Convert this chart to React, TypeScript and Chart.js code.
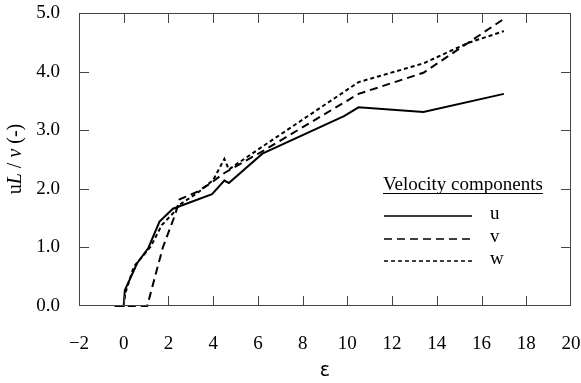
import React, { useEffect, useRef } from "react";
import { Chart, registerables } from "chart.js";

Chart.register(...registerables);

const uEps = [-0.4, 0, 0.05, 0.6, 1.1, 1.6, 2.2, 3.95, 4.5, 4.7, 6.2, 9.85, 10.5, 13.4, 17];
const uVals = [0, 0, 0.27, 0.73, 0.99, 1.44, 1.66, 1.91, 2.14, 2.1, 2.6, 3.24, 3.39, 3.31, 3.62];

const vEps = [-0.4, 1.05, 1.75, 2.3, 2.5, 3.3, 3.9, 4.5, 6.2, 10.5, 13.4, 17];
const vVals = [0, 0, 1.0, 1.56, 1.82, 1.95, 2.1, 2.27, 2.64, 3.62, 3.98, 4.9];

const wEps = [0, 0.07, 0.45, 1.2, 1.7, 2.2, 2.5, 3.3, 4.0, 4.5, 4.7, 6.2, 10.5, 13.4, 15.4, 17];
const wVals = [0, 0.22, 0.67, 1.01, 1.38, 1.58, 1.73, 1.93, 2.15, 2.51, 2.33, 2.72, 3.82, 4.14, 4.49, 4.69];

const seriesNames = ["u", "v", "w"];
const legendTitle = "Velocity components";
const xTitle = "ε";

const dashes = [[], [8, 5], [4, 3]];

const toXY = (xs: number[], ys: number[]) => xs.map((x, i) => ({ x, y: ys[i] }));

const SERIF = "'Liberation Serif'";

const framePlugin = {
  id: "frameTicks",
  afterDraw(chart: any) {
    const { ctx, chartArea: a, scales } = chart;
    const xs = scales.x;
    const ys = scales.y;
    ctx.save();
    ctx.strokeStyle = "#444";
    ctx.lineWidth = 1;
    ctx.setLineDash([]);
    ctx.strokeRect(a.left + 0.5, a.top + 0.5, a.right - a.left - 1, a.bottom - a.top - 1);
    const L = 10;
    ctx.beginPath();
    xs.ticks.forEach((t: any) => {
      const px = Math.round(xs.getPixelForValue(t.value)) + 0.5;
      if (px <= a.left + 1 || px >= a.right - 1) return;
      ctx.moveTo(px, a.bottom);
      ctx.lineTo(px, a.bottom - L);
      ctx.moveTo(px, a.top);
      ctx.lineTo(px, a.top + L);
    });
    ys.ticks.forEach((t: any) => {
      const py = Math.round(ys.getPixelForValue(t.value)) + 0.5;
      if (py <= a.top + 1 || py >= a.bottom - 1) return;
      ctx.moveTo(a.left, py);
      ctx.lineTo(a.left + L, py);
      ctx.moveTo(a.right, py);
      ctx.lineTo(a.right - L, py);
    });
    ctx.stroke();

    // y axis title with italic L
    ctx.fillStyle = "#000";
    ctx.translate(16, 159);
    ctx.rotate(-Math.PI / 2);
    ctx.textBaseline = "middle";
    const parts = [
      { t: "u", f: `20px ${SERIF}` },
      { t: "L", f: `italic 20px ${SERIF}` },
      { t: " / ", f: `20px ${SERIF}` },
      { t: "ν", f: `italic 20px ${SERIF}` },
      { t: " (-)", f: `20px ${SERIF}` },
    ];
    let total = 0;
    parts.forEach((p) => {
      ctx.font = p.f;
      total += ctx.measureText(p.t).width;
    });
    let cx = -total / 2;
    parts.forEach((p) => {
      ctx.font = p.f;
      ctx.fillText(p.t, cx, 0);
      cx += ctx.measureText(p.t).width;
    });
    ctx.restore();

    // legend
    ctx.save();
    ctx.fillStyle = "#000";
    ctx.strokeStyle = "#000";
    ctx.font = `19px ${SERIF}`;
    ctx.textBaseline = "alphabetic";
    const lx = 383;
    const ly = 190;
    ctx.fillText(legendTitle, lx, ly);
    const tw = ctx.measureText(legendTitle).width;
    ctx.lineWidth = 1;
    ctx.beginPath();
    ctx.moveTo(lx, ly + 3.5);
    ctx.lineTo(lx + tw, ly + 3.5);
    ctx.stroke();
    const rows = [216, 239, 261];
    chart.data.datasets.forEach((ds: any, i: number) => {
      const yy = rows[i];
      ctx.lineWidth = 1.5;
      ctx.setLineDash(ds.borderDash || []);
      ctx.beginPath();
      ctx.moveTo(384, yy);
      ctx.lineTo(472, yy);
      ctx.stroke();
      ctx.setLineDash([]);
      ctx.textBaseline = "middle";
      ctx.font = `19px ${SERIF}`;
      ctx.fillText(ds.label, 490, yy - 2);
    });
    ctx.restore();
  },
};

export default function App() {
  const ref = useRef<HTMLCanvasElement>(null);
  useEffect(() => {
    document.body.style.margin = "0";
    const datasets = [toXY(uEps, uVals), toXY(vEps, vVals), toXY(wEps, wVals)].map((d, i) => ({
      label: seriesNames[i],
      data: d,
      borderColor: "#000",
      backgroundColor: "#000",
      borderWidth: 2,
      borderDash: dashes[i],
      pointRadius: 0,
      tension: 0,
      fill: false,
      clip: 4,
    }));
    const chart = new Chart(ref.current!, {
      type: "line",
      data: { datasets },
      options: {
        animation: false,
        responsive: false,
        maintainAspectRatio: false,
        layout: { padding: { top: 13, right: 0, left: 0, bottom: 0 } },
        plugins: { legend: { display: false }, tooltip: { enabled: false } },
        scales: {
          x: {
            type: "linear",
            min: -2,
            max: 20,
            afterFit: (s: any) => {
              s.height = 77;
              s.paddingLeft = 0;
              s.paddingRight = 10;
            },
            ticks: {
              stepSize: 2,
              color: "#000",
              padding: 27,
              maxRotation: 0,
              autoSkip: false,
              font: { family: SERIF, size: 19 },
              callback: (v: any) => (Number(v) < 0 ? "−" + Math.abs(Number(v)) : String(v)),
            },
            grid: { display: false, drawTicks: false },
            border: { display: false },
            title: {
              display: true,
              text: xTitle,
              color: "#000",
              font: { family: "'DejaVu Sans'", size: 19 },
              padding: { top: 0, bottom: 1 },
            },
          },
          y: {
            type: "linear",
            min: 0,
            max: 5,
            afterFit: (s: any) => {
              s.width = 79;
              s.paddingTop = 0;
              s.paddingBottom = 0;
            },
            ticks: {
              stepSize: 1,
              color: "#000",
              padding: 19,
              font: { family: SERIF, size: 19 },
              callback: (v: any) => Number(v).toFixed(1),
            },
            grid: { display: false, drawTicks: false },
            border: { display: false },
          },
        },
      },
      plugins: [framePlugin],
    });
    return () => chart.destroy();
  }, []);
  return (
    <div style={{ width: 581, height: 383 }}>
      <canvas ref={ref} width={581} height={383} style={{ display: "block" }} />
    </div>
  );
}
